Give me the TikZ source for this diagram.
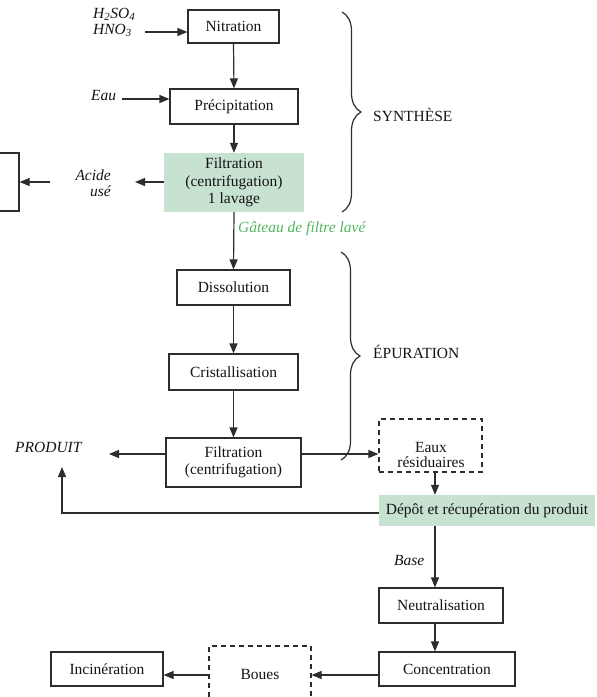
\documentclass[tikz,border=0pt]{standalone}
\usepackage{fontspec}
\setmainfont{Liberation Serif}
\usetikzlibrary{arrows.meta,decorations.pathreplacing}
\definecolor{lncol}{RGB}{45,45,45}
\definecolor{greenfill}{RGB}{199,226,208}
\definecolor{greentext}{RGB}{84,180,94}
\begin{document}
\begin{tikzpicture}[x=1pt,y=-1pt,
  every node/.style={font=\fontsize{15.5}{17.5}\selectfont, text=black!92, inner sep=0pt},
  box/.style={draw=lncol, line width=1.2pt, align=center},
  gbox/.style={fill=greenfill, align=center},
  dbox/.style={draw=lncol, line width=1.2pt, dash pattern=on 5pt off 4pt},
  arr/.style={draw=lncol, line width=1.2pt, -{Triangle[length=10pt,width=8pt]}},
  brc/.style={draw=lncol, line width=1.2pt, decorate, decoration={brace,amplitude=19pt}},
  lbl/.style={font=\fontsize{15.5}{17.5}\selectfont\itshape}]
\useasboundingbox (0,0) rectangle (597,697);
\clip (0,0) rectangle (597,697);

% boxes
\node[box, minimum width=91pt, minimum height=33pt] (nit) at (233.5,26.5) {Nitration};
\node[box, minimum width=128pt, minimum height=35pt] (prec) at (234,106.5) {Précipitation};
\node[gbox, minimum width=140pt, minimum height=59pt] (filt1) at (234,182.5) {Filtration\\(centrifugation)\\1 lavage};
\node[box, minimum width=39pt, minimum height=58pt] (acidbox) at (-0.5,182) {};
\node[box, minimum width=113pt, minimum height=35pt] (diss) at (233.5,287.5) {Dissolution};
\node[box, minimum width=129pt, minimum height=36pt] (crist) at (233.5,372) {Cristallisation};
\node[box, minimum width=135pt, minimum height=49pt] (filt2) at (233.5,462.5) {Filtration\\(centrifugation)};
\node[dbox, minimum width=103pt, minimum height=53pt] (eaux) at (430.5,445.5) {};
\node[align=center, font=\fontsize{15.5}{15}\selectfont] (eauxt) at (431,455) {Eaux\\résiduaires};
\node[gbox, minimum width=216pt, minimum height=31pt] (depot) at (487,510.5) {Dépôt et récupération du produit};
\node[box, minimum width=124pt, minimum height=35pt] (neut) at (441,605.5) {Neutralisation};
\node[box, minimum width=136pt, minimum height=34pt] (conc) at (447,669) {Concentration};
\node[dbox, minimum width=102pt, minimum height=56pt] (boues) at (260,674) {Boues};
\node[box, minimum width=112pt, minimum height=34pt] (incin) at (107,669) {Incinération};

% labels
\node[lbl, anchor=base west] (h2so4) at (93,18) {H\textsubscript{2}SO\textsubscript{4}};
\node[lbl, anchor=base west] (hno3) at (93,34) {HNO\textsubscript{3}};
\node[lbl, anchor=base west] (eau) at (91,100) {Eau};
\node[lbl, anchor=base east] (acide) at (111,180) {Acide};
\node[lbl, anchor=base east] (use) at (111,196) {usé};
\node[lbl, anchor=west, text=greentext] (gateau) at (238,229) {Gâteau de filtre lavé};
\node[lbl, anchor=base west] (produit) at (15,452) {PRODUIT};
\node[lbl, anchor=base west] (base) at (394,565) {Base};
\node[anchor=west] (synth) at (373,115) {SYNTHÈSE};
\node[anchor=west] (epur) at (373,352) {ÉPURATION};

% free ends
\coordinate (inA) at (145,32);
\coordinate (inB) at (122,99);
\coordinate (outA) at (135,182);
\coordinate (inC) at (50,182);
\coordinate (outP) at (109,454);
\coordinate (fb) at (62,467);
\coordinate (yfb) at (0,513);
\coordinate (y454) at (0,454);
\coordinate (x435) at (435,0);
\coordinate (y675) at (0,675);

% connectors
\draw[arr] (inA) -- (inA -| nit.west);
\draw[arr] (inB) -- (inB -| prec.west);
\draw[arr] (nit.south) -- (prec.north);
\draw[arr] (prec.south) -- (filt1.north);
\draw[arr] (filt1.west |- outA) -- (outA);
\draw[arr] (inC) -- (inC -| acidbox.east);
\draw[arr] (filt1.south) -- (diss.north);
\draw[arr] (diss.south) -- (crist.north);
\draw[arr] (crist.south) -- (filt2.north);
\draw[arr] (filt2.west |- y454) -- (outP);
\draw[arr] (filt2.east |- y454) -- (eaux.west |- y454);
\draw[arr] (eaux.south -| x435) -- (depot.north -| x435);
\draw[arr] (depot.west |- yfb) -| (fb);
\draw[arr] (depot.south -| x435) -- (neut.north -| x435);
\draw[arr] (neut.south -| x435) -- (conc.north -| x435);
\draw[arr] (conc.west |- y675) -- (boues.east |- y675);
\draw[arr] (boues.west |- y675) -- (incin.east |- y675);

% braces
\draw[brc] (342,12) -- (342,212);
\draw[brc] (341,252) -- (341,460);
\end{tikzpicture}
\end{document}
